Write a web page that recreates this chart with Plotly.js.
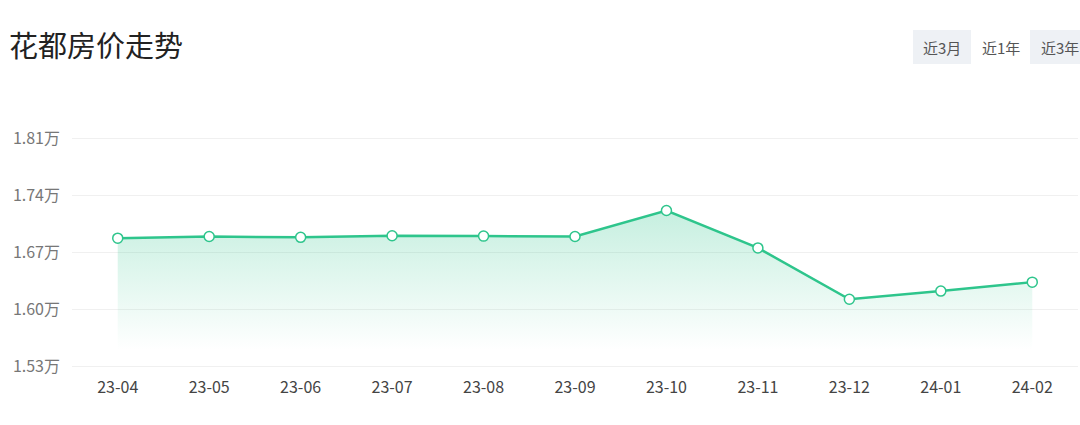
<!DOCTYPE html>
<html>
<head>
<meta charset="utf-8">
<script src="https://cdn.plot.ly/plotly-3.0.1.min.js"></script>
<style>html,body{margin:0;padding:0;background:#fff;}#chart{width:1080px;height:425px;}</style>
</head>
<body>
<div id="chart"></div>
<script>
const months = ['23-04','23-05','23-06','23-07','23-08','23-09','23-10','23-11','23-12','24-01','24-02'];
const prices = [1.687, 1.689, 1.688, 1.690, 1.6895, 1.689, 1.721, 1.675, 1.612, 1.622, 1.633];
const yTickVals = [1.53, 1.60, 1.67, 1.74, 1.81];
const yTickText = ['1.53万', '1.60万', '1.67万', '1.74万', '1.81万'];
const buttonLabels = ['近3月', '近1年', '近3年'];

const W = 1080, H = 425, ML = 72, MR = 2, MT = 136, MB = 57;
const PW = W - ML - MR, PH = H - MT - MB;
const px = x => (x - ML) / PW;
const py = y => (H - MB - y) / PH;
// 228px for 0.28 -> extend range by 2px each side
const pad = 2 * 0.28 / 228;

const green = '#2ec58c';
const trace = {
  x: months, y: prices, type: 'scatter', mode: 'lines+markers',
  line: {color: green, width: 2.5},
  marker: {size: 10, color: '#ffffff', line: {color: green, width: 1.5}},
  fill: 'tozeroy',
  fillgradient: {type: 'vertical', start: 1.55, stop: 1.725,
    colorscale: [[0, 'rgba(46,197,140,0)'], [1, 'rgba(46,197,140,0.28)']]},
  hoverinfo: 'x+y'
};

const btnBoxes = [[913, 971, '#eef1f5'], [971, 1030, '#ffffff'], [1030, 1090, '#eef1f5']];
const shapes = btnBoxes.map(b => ({type: 'rect', xref: 'paper', yref: 'paper',
  x0: px(b[0]), x1: px(b[1]), y0: py(64), y1: py(30), fillcolor: b[2], line: {width: 0}, layer: 'below'}));
const annotations = buttonLabels.map((t, i) => ({text: t, xref: 'paper', yref: 'paper',
  x: px((btnBoxes[i][0] + btnBoxes[i][1]) / 2), y: py(47), xanchor: 'center', yanchor: 'middle',
  showarrow: false, font: {size: 15, color: '#555'}}));

const layout = {
  width: W, height: H,
  margin: {l: ML, r: MR, t: MT, b: MB},
  paper_bgcolor: '#fff', plot_bgcolor: '#fff',
  font: {family: '"Noto Sans CJK SC", "Noto Sans", sans-serif'},
  showlegend: false,
  title: {text: '花都房价走势', xref: 'container', yref: 'container', x: 9 / W, xanchor: 'left',
    y: 1 - 47 / H, yanchor: 'middle', font: {size: 29, color: '#222'}},
  xaxis: {type: 'category', range: [-0.5, 10.5], showgrid: false, zeroline: false, showline: false,
    ticks: '', ticklabelstandoff: 8, tickfont: {size: 16, color: '#444'}, fixedrange: true},
  yaxis: {range: [1.53 - pad, 1.81 + pad], tickvals: yTickVals, ticktext: yTickText, showgrid: true,
    gridcolor: '#f0f0f0', gridwidth: 1, zeroline: false, showline: false, ticks: '',
    ticklabelstandoff: 11, tickfont: {size: 16, color: '#777'}, fixedrange: true},
  shapes: shapes, annotations: annotations
};
Plotly.newPlot('chart', [trace], layout, {displayModeBar: false, staticPlot: true});
</script>
</body>
</html>
